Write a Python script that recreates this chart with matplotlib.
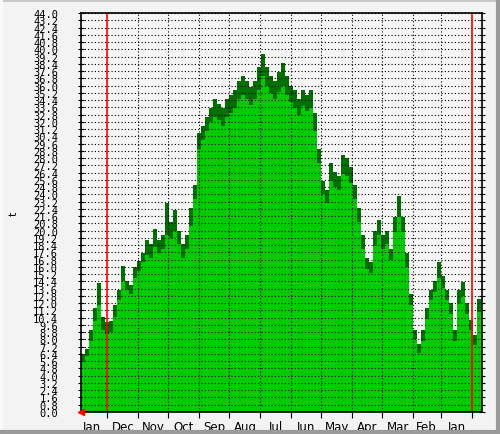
import numpy as np
import matplotlib
matplotlib.use("Agg")
import matplotlib.pyplot as plt

# one sample every 4 days, left to right
step_days = 4
t_max = [6.4, 7.0, 9.0, 11.5, 14.2, 10.5, 9.9, 10.0, 11.8, 13.5,
         16.1, 14.5, 14.0, 16.0, 16.7, 17.5, 19.0, 18.5, 20.2, 19.0,
         19.5, 23.0, 21.0, 22.3, 20.0, 18.5, 19.5, 22.5, 25.0, 30.8,
         31.5, 32.5, 33.5, 34.5, 34.0, 33.5, 34.5, 35.0, 35.5, 36.5,
         37.0, 36.5, 35.8, 36.5, 38.0, 39.5, 38.0, 37.0, 36.5, 37.5,
         38.5, 37.0, 36.0, 35.5, 34.5, 35.5, 35.0, 35.5, 33.0, 29.0,
         25.5, 24.5, 27.5, 26.5, 26.0, 28.3, 28.0, 27.0, 25.0, 22.5,
         19.5, 17.0, 16.5, 20.0, 21.2, 19.5, 20.0, 18.0, 21.5, 23.8,
         21.5, 17.5, 13.0, 9.0, 7.5, 9.0, 11.5, 13.5, 14.5, 16.5,
         15.0, 13.5, 12.0, 9.0, 13.5, 14.3, 12.0, 10.2, 8.5, 12.5]
t_avg = [5.5, 6.2, 7.8, 10.0, 11.8, 9.0, 8.6, 8.8, 10.5, 12.3,
         14.5, 13.5, 13.0, 14.8, 15.5, 16.5, 17.3, 17.0, 18.2, 17.5,
         18.0, 19.5, 19.2, 20.0, 18.5, 17.0, 18.0, 20.5, 23.5, 29.0,
         30.0, 31.0, 32.0, 32.5, 32.2, 31.5, 32.5, 33.0, 33.5, 34.5,
         35.0, 34.5, 33.8, 34.5, 35.5, 37.0, 36.0, 35.2, 34.5, 35.3,
         36.0, 35.0, 34.2, 33.5, 32.8, 33.7, 33.2, 33.5, 31.0, 27.5,
         24.0, 23.0, 25.5, 24.8, 24.5, 26.3, 26.0, 25.3, 23.5, 21.0,
         18.0, 15.8, 15.3, 18.3, 19.5, 18.0, 18.5, 16.8, 19.8, 21.5,
         19.8, 16.0, 11.8, 8.0, 6.5, 7.8, 10.3, 12.3, 13.2, 14.8,
         13.7, 12.3, 10.8, 7.8, 12.0, 12.8, 10.8, 9.0, 7.4, 11.0]

months = ["Jan", "Dec", "Nov", "Oct", "Sep", "Aug", "Jul",
          "Jun", "May", "Apr", "Mar", "Feb", "Jan"]
month_days = [26, 31, 30, 31, 30, 31, 31, 30, 31, 30, 31, 28, 31]
span_days = 401

x = np.arange(len(t_max) + 1) * step_days
ymax = np.append(t_max, t_max[-1])
yavg = np.append(t_avg, t_avg[-1])

fig = plt.figure(figsize=(5, 4.35), dpi=100, facecolor="#f3f3f3")
ax = fig.add_axes([81 / 500, 22 / 435, 401 / 500, 399 / 435])
ax.set_facecolor("#f6f6f6")

# shaded frame round the picture
fig.add_artist(plt.Line2D([0, 1], [1 - 1 / 435, 1 - 1 / 435], transform=fig.transFigure, color="#c8c8c8", lw=2))
fig.add_artist(plt.Line2D([0.001, 0.001], [0, 1], transform=fig.transFigure, color="#fafafa", lw=2))
fig.add_artist(plt.Line2D([0, 1], [2 / 435, 2 / 435], transform=fig.transFigure, color="#9a9a9a", lw=3))
fig.add_artist(plt.Line2D([1 - 2 / 500, 1 - 2 / 500], [0, 1], transform=fig.transFigure, color="#9a9a9a", lw=3))

ax.fill_between(x, 0, ymax, step="post", color="#007000", lw=0, zorder=2)
ax.fill_between(x, 0, yavg, step="post", color="#00cc00", lw=0, zorder=3)

yt = np.arange(0, 56) * 0.8
ax.set_ylim(0, 44)
ax.set_xlim(0, span_days)
ax.set_yticks(yt)
ax.set_yticklabels([f"{v:.1f}" for v in yt], family="DejaVu Sans Mono", fontsize=7.5)
for v in yt[1:]:
    ax.axhline(v, color="black", lw=0.8, ls=(0, (1, 2)), zorder=4)

bounds = np.cumsum(month_days)
for i, b in enumerate(bounds):
    if b >= span_days:
        continue
    if months[i] == "Jan":
        ax.axvline(b, color="red", lw=1.2, zorder=5)
    else:
        ax.axvline(b, color="black", lw=0.8, ls=(0, (1, 2)), zorder=4)
centers = bounds - 15
ax.set_xticks(bounds[bounds < span_days])
ax.set_xticklabels([])
ax.set_xticks(centers, minor=True)
ax.set_xticklabels(months, minor=True, fontsize=8.5, family="DejaVu Sans")
ax.tick_params(axis="x", which="minor", length=0, pad=6)
ax.tick_params(axis="x", which="major", length=4, direction="out")
ax.tick_params(axis="y", which="major", length=5, direction="inout",
               right=True, left=True, pad=14)

ax.axhline(0, color="#0000cc", lw=1.5, zorder=6)
ax.plot([0], [0], marker="<", color="red", ms=5, clip_on=False, zorder=7)
for s in ax.spines.values():
    s.set_color("black")
    s.set_linewidth(1.2)
    s.set_zorder(6)

ax.set_ylabel("t", fontsize=8)
ax.yaxis.set_label_coords(-0.155, 0.5)

fig.savefig("out.png", dpi=100, facecolor=fig.get_facecolor())
